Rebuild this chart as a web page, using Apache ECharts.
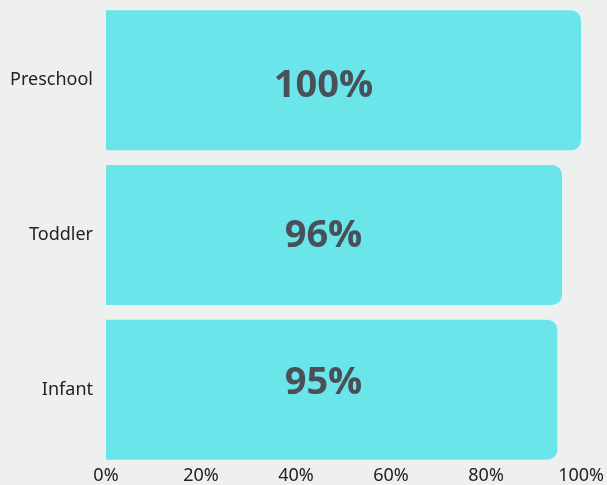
<!DOCTYPE html>
<html>
<head>
<meta charset="utf-8">
<script src="https://cdn.jsdelivr.net/npm/echarts@6/dist/echarts.min.js"></script>
<style>
html,body{margin:0;padding:0;background:#eef0ef;}
#c{width:607px;height:485px;}
</style>
</head>
<body>
<div id="c"></div>
<script>
const categories = ['Infant', 'Toddler', 'Preschool'];
const values = [95, 96, 100];
const labelOffsets = [-6, 1, 6];
const tickLabels = ['0%', '20%', '40%', '60%', '80%', '100%'];

const chart = echarts.init(document.getElementById('c'), null, {renderer: 'canvas'});
chart.setOption({
  backgroundColor: '#eef0ef',
  animation: false,
  grid: {left: 106, right: 24, top: 3, bottom: 13, containLabel: false},
  xAxis: {
    type: 'value', min: 0, max: 100, interval: 20,
    axisLine: {show: false}, axisTick: {show: false}, splitLine: {show: false},
    axisLabel: {
      margin: 0, fontSize: 18, color: '#222', fontFamily: 'Noto Sans',
      formatter: v => tickLabels[v / 20]
    }
  },
  yAxis: {
    type: 'category', data: categories,
    axisLine: {show: false}, axisTick: {show: false},
    axisLabel: {margin: 13, fontSize: 18, color: '#222', fontFamily: 'Noto Sans'}
  },
  series: [{
    type: 'bar',
    barWidth: 140,
    data: values.map((v, i) => ({
      value: v,
      label: {offset: [1.5, labelOffsets[i]]}
    })),
    itemStyle: {color: '#6ae6ea', borderRadius: [0, 10, 10, 0]},
    label: {
      show: true,
      position: [216, '50%'],
      align: 'center', verticalAlign: 'middle',
      formatter: p => p.value + '%',
      fontSize: 38, fontWeight: 'bold', fontFamily: 'Open Sans',
      color: '#4a5057'
    }
  }]
});
</script>
</body>
</html>
